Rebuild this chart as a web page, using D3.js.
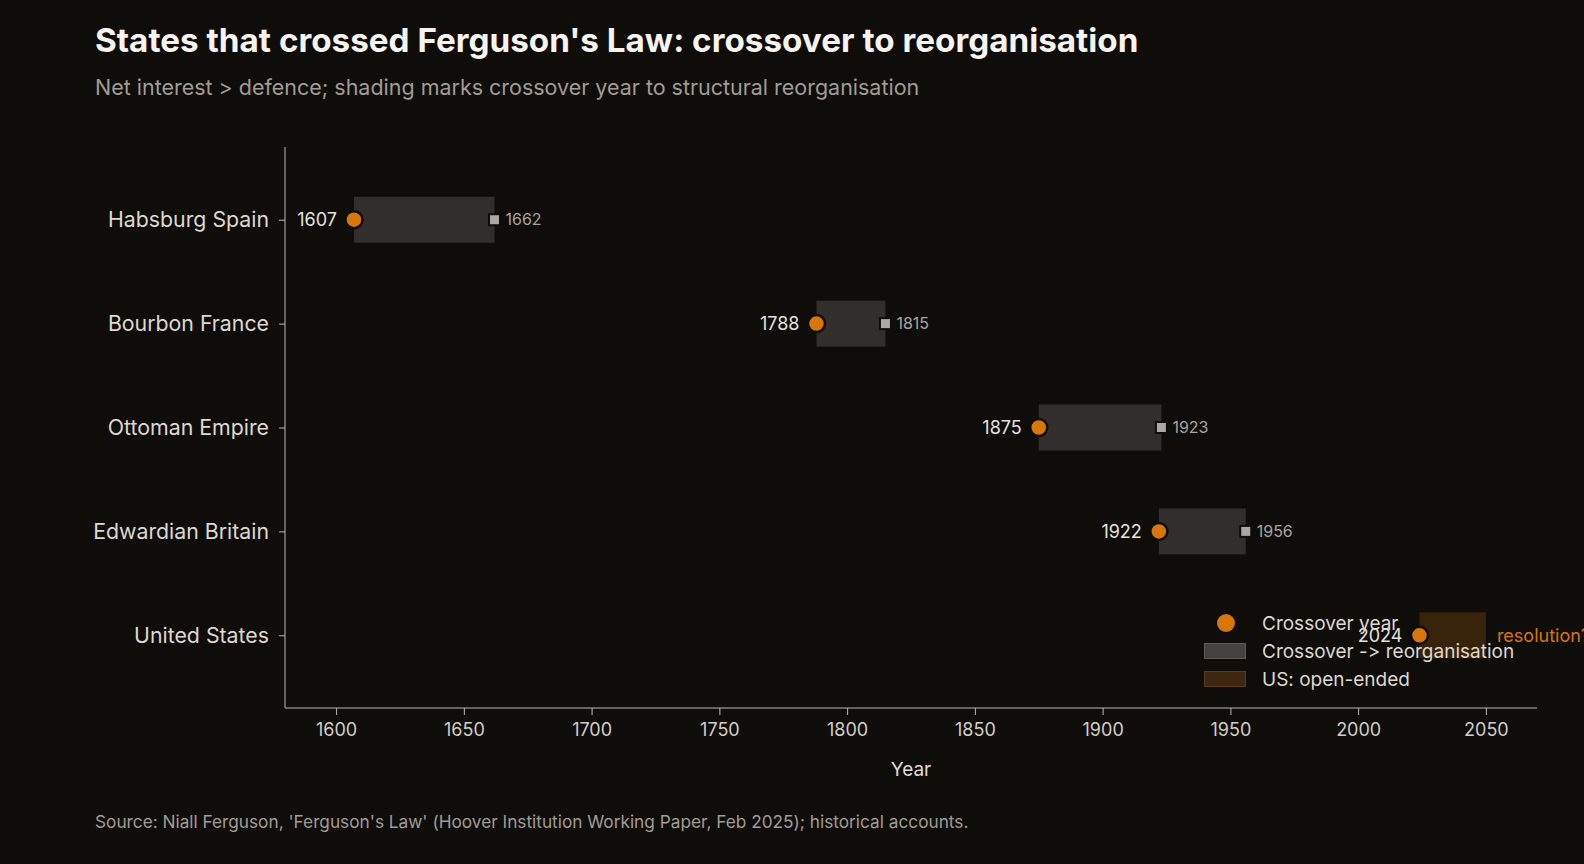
<!DOCTYPE html>
<html>
<head>
<meta charset="utf-8">
<script src="https://cdn.jsdelivr.net/npm/d3@7"></script>
<style>
  body { margin: 0; background: #0e0d0a; }
  text { font-family: "Inter", "Lato", sans-serif; font-feature-settings: "calt" 0, "liga" 0; }
</style>
</head>
<body>
<div id="chart"></div>
<script>
// Data
var states = ["Habsburg Spain", "Bourbon France", "Ottoman Empire", "Edwardian Britain", "United States"];
var crossoverYears = [1607, 1788, 1875, 1922, 2024];
var reorgYears = [1662, 1815, 1923, 1956, null];
var usOpenEnd = 2050;
var xTicks = [1600, 1650, 1700, 1750, 1800, 1850, 1900, 1950, 2000, 2050];

var svgWidth = 1584;
var svgHeight = 864;
var margin = {top: 147, right: 47, bottom: 156, left: 285};
var chartWidth = svgWidth - margin.left - margin.right;
var chartHeight = svgHeight - margin.top - margin.bottom;

var orange = "#d97706";
var bg = "#0e0d0a";

var rows = states.map(function(s, i) {
    return {state: s, start: crossoverYears[i], end: reorgYears[i]};
});

var svg = d3.select("#chart").append("svg")
    .attr("width", svgWidth)
    .attr("height", svgHeight);

svg.append("rect").attr("width", svgWidth).attr("height", svgHeight).attr("fill", bg);

// fit a text element to a target width
function fit(sel, w) {
    var cur = sel.node().getComputedTextLength();
    var fs = parseFloat(sel.attr("font-size"));
    sel.attr("font-size", fs * w / cur);
}

// Titles
svg.append("text")
    .attr("x", 95).attr("y", 52)
    .attr("font-size", 34).attr("font-weight", 700)
    .attr("fill", "#f7f4f0")
    .text("States that crossed Ferguson's Law: crossover to reorganisation")
    .call(fit, 1044);

svg.append("text")
    .attr("x", 95).attr("y", 95)
    .attr("font-size", 20)
    .attr("fill", "#a29c95")
    .text("Net interest > defence; shading marks crossover year to structural reorganisation")
    .call(fit, 825);

svg.append("text")
    .attr("x", 95).attr("y", 828)
    .attr("font-size", 16)
    .attr("fill", "#a29c95")
    .text("Source: Niall Ferguson, 'Ferguson's Law' (Hoover Institution Working Paper, Feb 2025); historical accounts.")
    .call(fit, 874);

var chartGroup = svg.append("g")
    .attr("transform", `translate(${margin.left}, ${margin.top})`);

// Scales
var xScale = d3.scaleLinear()
    .domain([1580, 2070])
    .range([0, chartWidth]);

var yScale = d3.scalePoint()
    .domain(states)
    .range([0, chartHeight])
    .padding(0.7);

var xAxis = d3.axisBottom(xScale).tickValues(xTicks).tickFormat(d3.format("d")).tickSize(7).tickPadding(8);
var yAxis = d3.axisLeft(yScale).tickSize(6).tickPadding(10);

var gx = chartGroup.append("g")
    .attr("transform", `translate(0, ${chartHeight})`)
    .call(xAxis);
gx.select(".domain").attr("stroke", "#bdb8b1").attr("d", `M0,0H${chartWidth}`);
gx.selectAll(".tick line").attr("stroke", "#bdb8b1");
gx.selectAll(".tick text").attr("fill", "#d3cec7").attr("font-size", 18).attr("font-family", null);

var gy = chartGroup.append("g").call(yAxis);
gy.select(".domain").attr("stroke", "#bdb8b1").attr("d", `M0,0V${chartHeight}`);
gy.selectAll(".tick line").attr("stroke", "#bdb8b1");
gy.selectAll(".tick text").attr("fill", "#ddd8d0").attr("font-size", 21.3).attr("font-family", null);

chartGroup.append("text")
    .attr("x", chartWidth / 2)
    .attr("y", chartHeight + 68)
    .attr("text-anchor", "middle")
    .attr("font-size", 19)
    .attr("fill", "#e0dbd4")
    .text("Year");

var barH = 46;

// Shaded spans
chartGroup.append("g").selectAll("rect")
    .data(rows)
    .enter()
    .append("rect")
    .attr("x", d => xScale(d.start))
    .attr("y", d => yScale(d.state) - barH / 2)
    .attr("width", d => xScale(d.end === null ? usOpenEnd : d.end) - xScale(d.start))
    .attr("height", barH)
    .attr("fill", d => d.end === null ? "#37220a" : "#322e2b");

// Reorganisation squares
var ended = rows.filter(d => d.end !== null);
chartGroup.append("g").selectAll("rect")
    .data(ended)
    .enter()
    .append("rect")
    .attr("x", d => xScale(d.end) - 5.5)
    .attr("y", d => yScale(d.state) - 5.5)
    .attr("width", 11)
    .attr("height", 11)
    .attr("fill", "#aca7a2")
    .attr("stroke", bg)
    .attr("stroke-width", 2);

chartGroup.append("g").selectAll("text")
    .data(ended)
    .enter()
    .append("text")
    .attr("x", d => xScale(d.end) + 11)
    .attr("y", d => yScale(d.state))
    .attr("dy", "0.35em")
    .attr("font-size", 16)
    .attr("fill", "#aaa49d")
    .text(d => d.end);

// Crossover dots
chartGroup.append("g").selectAll("circle")
    .data(rows)
    .enter()
    .append("circle")
    .attr("cx", d => xScale(d.start))
    .attr("cy", d => yScale(d.state))
    .attr("r", 8.5)
    .attr("fill", orange)
    .attr("stroke", bg)
    .attr("stroke-width", 2.5);

// Legend
var legend = svg.append("g");
legend.append("circle").attr("cx", 1226).attr("cy", 623).attr("r", 9).attr("fill", orange);
legend.append("rect").attr("x", 1204.5).attr("y", 643.5).attr("width", 41).attr("height", 15)
    .attr("fill", "#45413e").attr("stroke", "#5e5a56").attr("stroke-width", 1);
legend.append("rect").attr("x", 1204.5).attr("y", 671.5).attr("width", 41).attr("height", 15)
    .attr("fill", "#3e2710").attr("stroke", "#5e3b14").attr("stroke-width", 1);
var legendLabels = ["Crossover year", "Crossover -> reorganisation", "US: open-ended"];
legend.selectAll("text.leg")
    .data(legendLabels)
    .enter()
    .append("text")
    .attr("class", "leg")
    .attr("x", 1262)
    .attr("y", (d, i) => 623 + i * 28)
    .attr("dy", "0.35em")
    .attr("font-size", 19)
    .attr("fill", "#ddd8d0")
    .text(d => d);

// Crossover labels
chartGroup.append("g").selectAll("text")
    .data(rows)
    .enter()
    .append("text")
    .attr("x", d => xScale(d.start) - 17)
    .attr("y", d => yScale(d.state))
    .attr("dy", "0.35em")
    .attr("text-anchor", "end")
    .attr("font-size", 18)
    .attr("fill", "#e6e1da")
    .text(d => d.start);

var us = rows.filter(d => d.end === null);
chartGroup.append("g").selectAll("text")
    .data(us)
    .enter()
    .append("text")
    .attr("x", xScale(usOpenEnd) + 11)
    .attr("y", d => yScale(d.state))
    .attr("dy", "0.35em")
    .attr("font-size", 18)
    .attr("fill", orange)
    .text("resolution?");
</script>
</body>
</html>
